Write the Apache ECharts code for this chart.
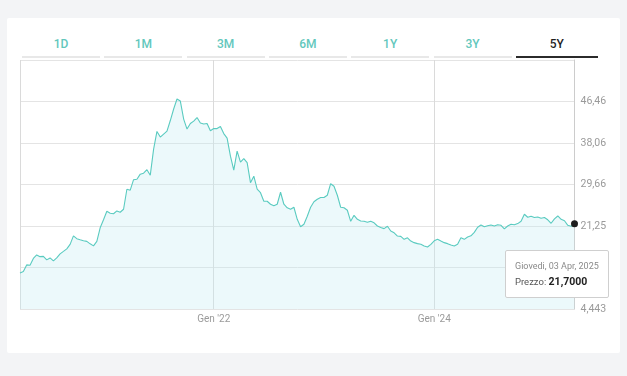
<!DOCTYPE html>
<html>
<head>
<meta charset="utf-8">
<script src="https://cdn.jsdelivr.net/npm/echarts@6/dist/echarts.min.js"></script>
<style>
html, body { margin:0; padding:0; width:627px; height:376px; overflow:hidden; background:#f3f4f6;
  font-family: Roboto, "Noto Sans", sans-serif; }
#card { position:absolute; left:7px; top:18px; width:613px; height:335px; background:#fff; border-radius:2px; }
.tab { position:absolute; top:36px; height:20px; border-bottom:2px solid #e8e8e8; text-align:center;
  font-size:12px; line-height:16px; font-weight:500; color:#62c7bc; }
.tab.on { color:#1f1f1f; border-bottom-color:#2b2b2b; }
#chart { position:absolute; left:0; top:0; width:627px; height:376px; }
</style>
</head>
<body>
<div id="card"></div>
<div id="tabs"></div>
<div id="chart"></div>
<script>
// periodi (tab in alto)
var tabs = ['1D', '1M', '3M', '6M', '1Y', '3Y', '5Y'];
var activeTab = '5Y';

// prezzi, un punto ogni 11 giorni dal 03/04/2020 al 03/04/2025
var startDate = '2020-04-03';
var stepDays = 11;
var prices = [
  11.75, 12.05, 13.37, 13.30, 14.69, 15.40, 15.04, 15.10, 14.39, 14.79,
  14.19, 14.79, 15.61, 16.11, 16.62, 17.54, 19.26, 18.69, 18.45, 18.25,
  18.14, 17.64, 17.23, 18.14, 20.88, 22.51, 24.23, 23.83, 23.73, 24.30,
  24.03, 24.64, 28.70, 28.50, 30.63, 30.73, 31.75, 31.95, 32.66, 31.54,
  36.82, 40.40, 39.26, 39.87, 40.47, 42.61, 44.94, 46.97, 46.56, 42.91,
  40.88, 42.00, 42.50, 43.21, 42.10, 41.90, 42.00, 40.54, 40.98, 40.98,
  41.39, 39.97, 39.05, 35.40, 32.56, 36.41, 34.18, 34.89, 34.08, 30.02,
  31.34, 28.70, 27.99, 26.26, 26.26, 25.66, 25.35, 25.66, 28.09, 25.66,
  24.94, 24.64, 25.05, 22.61, 21.09, 21.60, 23.22, 25.05, 26.16, 26.67,
  27.02, 27.02, 27.48, 29.82, 29.31, 27.48, 25.05, 24.94, 24.44, 22.20,
  23.42, 22.61, 22.27, 22.20, 22.00, 22.20, 21.90, 21.25, 20.93, 20.72,
  21.19, 20.23, 19.87, 19.22, 19.16, 18.55, 18.85, 18.20, 17.88, 17.68,
  17.54, 17.19, 16.99, 17.54, 18.25, 18.55, 18.20, 17.88, 17.68, 17.39,
  17.19, 17.54, 18.85, 18.55, 19.02, 19.26, 19.97, 20.99, 21.45, 21.09,
  21.29, 21.45, 21.25, 21.49, 21.39, 20.68, 21.25, 21.60, 21.49, 21.74,
  22.20, 23.63, 23.02, 23.22, 22.96, 23.08, 22.81, 22.96, 22.51, 21.80,
  22.71, 23.28, 22.61, 22.31, 21.39, 21.19, 21.70
];

// etichette asse x
var xTickDates = ['2022-01-01', '2024-01-01'];
var xTickLabels = ["Gen '22", "Gen '24"];

// scala asse y
var yMin = 4.443;
var yStep = 8.4042;
var yMax = yMin + 6 * yStep;

var giorni = ['Domenica', 'Lunedi', 'Martedi', 'Mercoledi', 'Giovedi', 'Venerdi', 'Sabato'];
var mesi = ['Gen', 'Feb', 'Mar', 'Apr', 'Mag', 'Giu', 'Lug', 'Ago', 'Set', 'Ott', 'Nov', 'Dic'];

// tab
var tabBox = document.getElementById('tabs');
tabs.forEach(function (t, i) {
  var d = document.createElement('div');
  d.className = 'tab' + (t === activeTab ? ' on' : '');
  d.style.left = (22 + i * 82.3) + 'px';
  d.style.width = (i === tabs.length - 1 ? 82 : 78) + 'px';
  d.textContent = t;
  tabBox.appendChild(d);
});

// date categorie
var t0 = Date.parse(startDate + 'T00:00:00Z');
var dates = prices.map(function (p, i) { return new Date(t0 + i * stepDays * 86400000); });
var cats = dates.map(function (d) { return d.toISOString().slice(0, 10); });
var last = prices.length - 1;

// indice più vicino per ogni etichetta
var tickIdx = {};
xTickDates.forEach(function (s, j) {
  var t = Date.parse(s + 'T00:00:00Z');
  var best = 0;
  dates.forEach(function (d, i) {
    if (Math.abs(d - t) < Math.abs(dates[best] - t)) best = i;
  });
  tickIdx[best] = xTickLabels[j];
});

function fmt(v, dec) { return v.toFixed(dec).replace('.', ','); }

var option = {
  animation: false,
  grid: { left: 20, right: 52.5, top: 60, bottom: 67 },
  xAxis: {
    type: 'category',
    data: cats,
    boundaryGap: false,
    axisLine: { show: false },
    axisTick: { show: false },
    axisLabel: {
      interval: function (i) { return tickIdx[i] !== undefined; },
      formatter: function (v, i) { return tickIdx[i] || ''; },
      color: '#9a9a9a', fontSize: 10, margin: 5, fontFamily: 'Roboto'
    },
    splitLine: {
      show: true,
      interval: function (i) { return i === 0 || tickIdx[i] !== undefined; },
      lineStyle: { color: '#dadada', width: 1 }
    }
  },
  yAxis: {
    type: 'value',
    position: 'right',
    min: yMin, max: yMax, interval: yStep,
    axisLine: { show: true, onZero: false, lineStyle: { color: '#cccccc' } },
    axisTick: { show: false },
    axisLabel: {
      color: '#9a9a9a', fontSize: 10.5, margin: 6, fontFamily: 'Roboto',
      showMaxLabel: false,
      formatter: function (v) { return v.toPrecision(4).replace('.', ','); }
    },
    splitLine: { lineStyle: { color: '#e4e4e4' } }
  },
  tooltip: {
    trigger: 'axis',
    triggerOn: 'none',
    alwaysShowContent: true,
    axisPointer: { type: 'none' },
    position: function () { return [505, 250]; },
    backgroundColor: '#fff',
    borderColor: '#cfcfcf',
    borderWidth: 1,
    padding: [8, 9, 7, 9],
    extraCssText: 'box-shadow:none;border-radius:2px;',
    formatter: function (params) {
      var i = params[0].dataIndex;
      var d = dates[i];
      var dd = ('0' + d.getUTCDate()).slice(-2);
      var line1 = giorni[d.getUTCDay()] + ', ' + dd + ' ' + mesi[d.getUTCMonth()] + ', ' + d.getUTCFullYear();
      return '<div style="font-family:Roboto;font-size:9px;color:#8a8a8a;line-height:15px">' + line1 + '</div>' +
        '<div style="font-family:Roboto;font-size:9.5px;color:#555;line-height:16px">Prezzo: ' +
        '<b style="font-size:10.5px;color:#222">' + fmt(prices[i], 4) + '</b></div>';
    }
  },
  series: [{
    type: 'line',
    data: prices,
    showSymbol: false,
    symbol: 'circle',
    symbolSize: 7,
    z: 5,
    lineStyle: { color: '#52b9af', width: 1.1 },
    itemStyle: { color: '#1e1e1e', borderWidth: 0 },
    areaStyle: { color: 'rgba(196,236,241,0.45)' },
    emphasis: {
      scale: false,
      itemStyle: { color: '#1e1e1e', borderColor: '#1e1e1e', borderWidth: 0 },
      lineStyle: { width: 1.1 },
      areaStyle: { color: 'rgba(196,236,241,0.45)' }
    },
    markLine: {
      silent: true,
      symbol: 'none',
      z: 1,
      label: { show: false },
      lineStyle: { color: '#cccccc', type: 'solid', width: 1 },
      emphasis: { disabled: true },
      data: [[{ xAxis: last, yAxis: yMin }, { xAxis: last, yAxis: yMax }]]
    }
  }]
};

var chart = echarts.init(document.getElementById('chart'));
chart.setOption(option);
chart.dispatchAction({ type: 'showTip', seriesIndex: 0, dataIndex: last });
</script>
</body>
</html>
